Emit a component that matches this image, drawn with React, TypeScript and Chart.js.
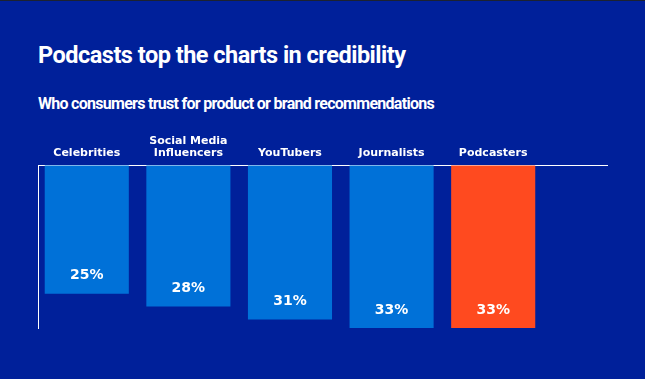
import React, { useEffect, useRef } from "react";
import { Chart, registerables } from "chart.js";

Chart.register(...registerables);

const TITLE = "Podcasts top the charts in credibility";
const SUBTITLE = "Who consumers trust for product or brand recommendations";
const categories: (string | string[])[] = [
  "Celebrities",
  ["Social Media", "Influencers"],
  "YouTubers",
  "Journalists",
  "Podcasters",
];
const values = [25, 28, 31, 33, 33];
const valueLabels = ["25%", "28%", "31%", "33%", "33%"];
const barColors = ["#0071D8", "#0071D8", "#0071D8", "#0071D8", "#FF4A1F"];

const BG = "#00209A";
const BASE = -5;

const valueLabelPlugin = {
  id: "valueLabels",
  afterDatasetsDraw(chart: any) {
    const ctx = chart.ctx;
    const meta = chart.getDatasetMeta(0);
    ctx.save();
    ctx.fillStyle = "#FFFFFF";
    ctx.font = "bold 14px 'DejaVu Sans'";
    ctx.textAlign = "center";
    ctx.textBaseline = "middle";
    meta.data.forEach((el: any, i: number) => {
      ctx.fillText(valueLabels[i], el.x, el.y - 18);
    });
    ctx.restore();
  },
};

export default function App() {
  const ref = useRef<HTMLCanvasElement | null>(null);

  useEffect(() => {
    document.body.style.margin = "0";
    const chart = new Chart(ref.current!, {
      type: "bar",
      data: {
        datasets: [
          {
            data: values.map((v, i) => ({ x: i, y: v })),
            backgroundColor: barColors,
            borderWidth: 0,
            base: BASE,
            barPercentage: 0.8276,
            categoryPercentage: 1,
          },
        ],
      },
      plugins: [valueLabelPlugin],
      options: {
        animation: false,
        responsive: false,
        layout: { padding: { left: 38, right: 38, top: 129, bottom: 51 } },
        plugins: {
          legend: { display: false },
          tooltip: { enabled: false },
          title: { display: false },
        },
        scales: {
          x: {
            type: "linear",
            position: "top",
            offset: false,
            min: -0.48,
            max: 5.12,
            grid: { display: true, color: "transparent", drawTicks: false, offset: false },
            border: { display: true, color: "#FFFFFF", width: 1 },
            ticks: {
              stepSize: 1,
              includeBounds: false,
              autoSkip: false,
              maxRotation: 0,
              padding: 6,
              color: "#FFFFFF",
              font: { family: "'DejaVu Sans'", size: 11, weight: "bold", lineHeight: 1.1 },
              callback: (v: any) => {
                const c = categories[v as number];
                return c === undefined ? "" : c;
              },
            },
            afterFit: (s: any) => {
              s.height = 35;
            },
          },
          y: {
            type: "linear",
            reverse: true,
            min: BASE,
            max: 33,
            grid: { display: true, color: "transparent", drawTicks: false },
            border: { display: true, color: "#FFFFFF", width: 1 },
            ticks: { display: false },
          },
        },
      } as any,
    });
    return () => chart.destroy();
  }, []);

  return (
    <div
      style={{
        position: "fixed",
        left: 0,
        top: 0,
        width: 645,
        height: 379,
        background: BG,
        borderTop: "1px solid #1C2230",
        boxSizing: "border-box",
        overflow: "hidden",
      }}
    >
      <div
        style={{
          position: "absolute",
          left: 38,
          top: 40,
          fontFamily: "Roboto, sans-serif",
          fontWeight: 700,
          fontSize: 23.5,
          lineHeight: "28px",
          letterSpacing: "-0.5px",
          color: "#FFFFFF",
          whiteSpace: "nowrap",
        }}
      >
        {TITLE}
      </div>
      <div
        style={{
          position: "absolute",
          left: 38,
          top: 93,
          fontFamily: "Roboto, sans-serif",
          fontWeight: 700,
          fontSize: 16,
          lineHeight: "20px",
          letterSpacing: "-0.72px",
          color: "#FFFFFF",
          whiteSpace: "nowrap",
        }}
      >
        {SUBTITLE}
      </div>
      <canvas
        ref={ref}
        width={645}
        height={378}
        style={{ position: "absolute", left: 0, top: 0, width: 645, height: 378 }}
      />
    </div>
  );
}
